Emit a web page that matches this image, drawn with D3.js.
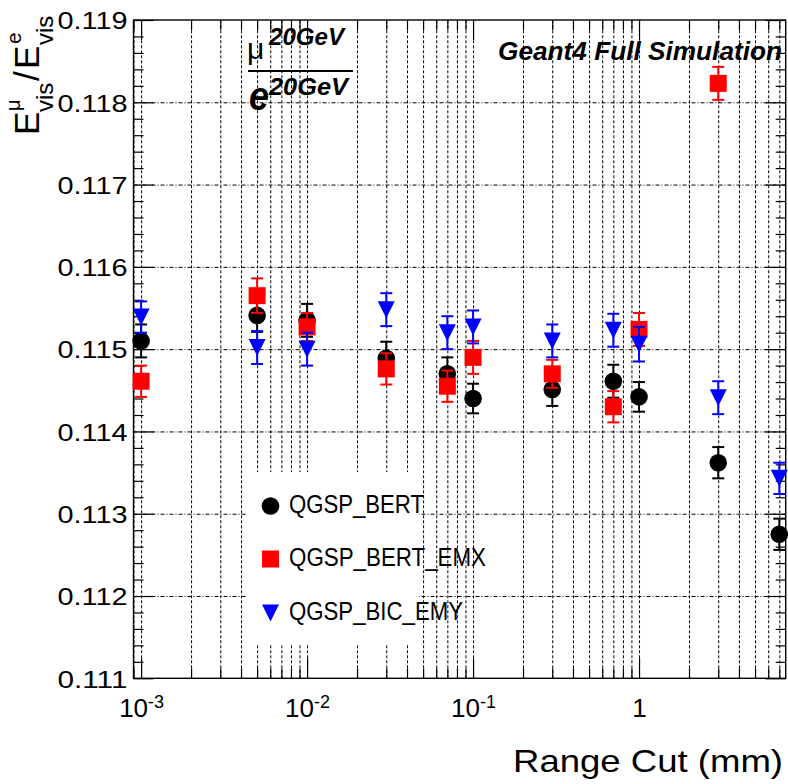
<!DOCTYPE html>
<html><head><meta charset="utf-8">
<script src="https://cdn.jsdelivr.net/npm/d3@7"></script>
<style>
body{margin:0;background:#fff}
text{font-family:"Liberation Sans",Arial,Helvetica,sans-serif;fill:#000}
</style>
</head><body>
<svg id="c" width="788" height="784"></svg>
<script>
// ---------- data ----------
const rangeCuts = [0.001, 0.005, 0.01, 0.03, 0.07, 0.1, 0.3, 0.7, 1, 3, 7];
const seriesNames = ["QGSP_BERT", "QGSP_BERT_EMX", "QGSP_BIC_EMY"];
const seriesColors = ["#000000", "#ff0000", "#0000ff"];
const bertVals  = [0.11510, 0.11541, 0.11535, 0.11489, 0.11470, 0.11440, 0.11451, 0.11461, 0.11442, 0.11362, 0.11275];
const bertErrs  = [0.00020, 0.00020, 0.00020, 0.00020, 0.00020, 0.00018, 0.00020, 0.00020, 0.00018, 0.00019, 0.00019];
const emxVals   = [0.11461, 0.11565, 0.11527, 0.11476, 0.11455, 0.11490, 0.11470, 0.11430, 0.11524, 0.11823, null];
const emxErrs   = [0.00019, 0.00021, 0.00017, 0.00019, 0.00019, 0.00020, 0.00017, 0.00019, 0.00020, 0.00020, null];
const emyVals   = [0.11539, 0.11502, 0.11500, 0.11548, 0.11520, 0.11527, 0.11510, 0.11523, 0.11506, 0.11441, 0.11343];
const emyErrs   = [0.00019, 0.00020, 0.00020, 0.00020, 0.00020, 0.00020, 0.00020, 0.00020, 0.00021, 0.00020, 0.00019];
const xMajorTicks = [0.001, 0.01, 0.1, 1];
const xTickLabels = [["10","-3"],["10","-2"],["10","-1"],["1",""]];
const yTicks = [0.111, 0.112, 0.113, 0.114, 0.115, 0.116, 0.117, 0.118, 0.119];
const yTickLabels = ["0.111","0.112","0.113","0.114","0.115","0.116","0.117","0.118","0.119"];
const xTitle = "Range Cut (mm)";
const simLabel = "Geant4 Full Simulation";

// ---------- layout ----------
const L = 133.5, R = 785.7, T = 20, B = 678.3;
const svg = d3.select("#c");
const x = d3.scaleLog().domain([0.0009, 7.65]).range([L, R]);
const y = d3.scaleLinear().domain([0.111, 0.119]).range([B, T]);

const xMinor = [];
for (let e = -4; e <= 1; e++) for (let k = 2; k <= 9; k++) {
  const v = k * Math.pow(10, e);
  if (v > 0.0009 && v < 7.65) xMinor.push(+v.toPrecision(3));
}
const xAllGrid = xMinor.concat(xMajorTicks);
const yMinor = d3.range(0.111, 0.11901, 0.0002).map(v => +v.toFixed(4)).filter(v => !yTicks.some(t => Math.abs(t - v) < 1e-7));
const yGrid = yTicks.filter(v => v > 0.111 && v < 0.119);

// ---------- grid ----------
const gx = svg.append("g").attr("transform", `translate(0,${B})`)
  .call(d3.axisBottom(x).tickValues(xAllGrid).tickSize(-(B - T)).tickFormat(""));
gx.select(".domain").remove();
gx.selectAll("line").attr("stroke", "#000").attr("stroke-width", 1).attr("stroke-dasharray", "3,2");

const gy = svg.append("g").attr("transform", `translate(${L},0)`)
  .call(d3.axisLeft(y).tickValues(yGrid).tickSize(-(R - L)).tickFormat(""));
gy.select(".domain").remove();
gy.selectAll("line").attr("stroke", "#000").attr("stroke-width", 1).attr("stroke-dasharray", "4,2,1,2");

// ---------- ticks ----------
function styleAxis(g) {
  g.select(".domain").remove();
  g.selectAll("line").attr("stroke", "#000").attr("stroke-width", 1.2);
}
// bottom
const bMaj = svg.append("g").attr("transform", `translate(0,${B})`)
  .call(d3.axisBottom(x).tickValues(xMajorTicks).tickSizeInner(-20).tickSizeOuter(0).tickPadding(20)
    .tickFormat((d, i) => ""));
styleAxis(bMaj);
bMaj.selectAll(".tick text").each(function(d, i) {
  const t = d3.select(this).attr("font-size", 26).attr("font-family", null);
  t.append("tspan").text(xTickLabels[i][0]);
  if (xTickLabels[i][1]) t.append("tspan").attr("font-size", 18).attr("dy", -9).text(xTickLabels[i][1]);
});
const bMin = svg.append("g").attr("transform", `translate(0,${B})`)
  .call(d3.axisBottom(x).tickValues(xMinor).tickSizeInner(-10).tickSizeOuter(0).tickFormat(""));
styleAxis(bMin);
// top
const tMaj = svg.append("g").attr("transform", `translate(0,${T})`)
  .call(d3.axisTop(x).tickValues(xMajorTicks).tickSizeInner(-20).tickSizeOuter(0).tickFormat(""));
styleAxis(tMaj);
const tMin = svg.append("g").attr("transform", `translate(0,${T})`)
  .call(d3.axisTop(x).tickValues(xMinor).tickSizeInner(-10).tickSizeOuter(0).tickFormat(""));
styleAxis(tMin);
// left
const lMaj = svg.append("g").attr("transform", `translate(${L},0)`)
  .call(d3.axisLeft(y).tickValues(yTicks).tickSizeInner(-20).tickSizeOuter(0).tickPadding(6)
    .tickFormat((d, i) => yTickLabels[i]));
styleAxis(lMaj);
lMaj.selectAll(".tick text").attr("font-size", 24.5).attr("font-family", null)
  .attr("textLength", 70).attr("lengthAdjust", "spacingAndGlyphs").attr("dy", "0.36em");
const lMin = svg.append("g").attr("transform", `translate(${L},0)`)
  .call(d3.axisLeft(y).tickValues(yMinor).tickSizeInner(-10).tickSizeOuter(0).tickFormat(""));
styleAxis(lMin);
// right
const rMaj = svg.append("g").attr("transform", `translate(${R},0)`)
  .call(d3.axisRight(y).tickValues(yTicks).tickSizeInner(-20).tickSizeOuter(0).tickFormat(""));
styleAxis(rMaj);
const rMin = svg.append("g").attr("transform", `translate(${R},0)`)
  .call(d3.axisRight(y).tickValues(yMinor).tickSizeInner(-10).tickSizeOuter(0).tickFormat(""));
styleAxis(rMin);

// frame
svg.append("rect").attr("x", L).attr("y", T).attr("width", R - L).attr("height", B - T)
  .attr("fill", "none").attr("stroke", "#000").attr("stroke-width", 1.4);

// ---------- labels ----------
svg.append("text").attr("x", 782).attr("y", 60).attr("text-anchor", "end")
  .attr("font-size", 26).attr("font-weight", "bold").attr("font-style", "italic")
  .attr("textLength", 284).attr("lengthAdjust", "spacingAndGlyphs").text(simLabel);

svg.append("text").attr("x", 783).attr("y", 772).attr("text-anchor", "end")
  .attr("font-size", 30.5).attr("textLength", 270).attr("lengthAdjust", "spacingAndGlyphs").text(xTitle);

// fraction label
svg.append("text").attr("x", 247).attr("y", 59).attr("font-size", 30).text("\u03bc");
svg.append("text").attr("x", 269).attr("y", 45).attr("font-size", 23.5).attr("font-weight", "bold")
  .attr("font-style", "italic").attr("textLength", 75).attr("lengthAdjust", "spacingAndGlyphs").text("20GeV");
svg.append("line").attr("x1", 248).attr("x2", 353).attr("y1", 71).attr("y2", 71)
  .attr("stroke", "#000").attr("stroke-width", 2);
svg.append("text").attr("x", 249).attr("y", 109.5).attr("font-size", 40).attr("font-weight", "bold")
  .attr("font-style", "italic").attr("textLength", 20).attr("lengthAdjust", "spacingAndGlyphs").text("e");
svg.append("text").attr("x", 269).attr("y", 95).attr("font-size", 24).attr("font-weight", "bold")
  .attr("font-style", "italic").attr("textLength", 79).attr("lengthAdjust", "spacingAndGlyphs").text("20GeV");

// y title
const yt = svg.append("g").attr("transform", "translate(39,135) rotate(-90)");
yt.append("text").attr("x", 0).attr("y", 0).attr("font-size", 35).text("E");
yt.append("text").attr("x", 24).attr("y", -19).attr("font-size", 20).text("\u03bc");
yt.append("text").attr("x", 23).attr("y", 14).attr("font-size", 24).text("vis");
yt.append("text").attr("x", 54).attr("y", 0).attr("font-size", 35).text("/");
yt.append("text").attr("x", 66).attr("y", 0).attr("font-size", 35).text("E");
yt.append("text").attr("x", 91).attr("y", -18).attr("font-size", 21).text("e");
yt.append("text").attr("x", 90).attr("y", 14).attr("font-size", 24).text("vis");

// ---------- legend box ----------
svg.append("rect").attr("x", 247).attr("y", 472).attr("width", 172).attr("height", 172).attr("fill", "#fff");

// ---------- data marks ----------
const series = [
  {vals: bertVals, errs: bertErrs, shape: "circle"},
  {vals: emxVals, errs: emxErrs, shape: "square"},
  {vals: emyVals, errs: emyErrs, shape: "triangle"}
];
function drawMarker(g, shape, cx, cy, color, s) {
  if (shape === "circle") g.append("circle").attr("cx", cx).attr("cy", cy).attr("r", s / 2 + 0.3).attr("fill", color);
  else if (shape === "square") g.append("rect").attr("x", cx - s / 2).attr("y", cy - s / 2).attr("width", s).attr("height", s).attr("fill", color);
  else g.append("path").attr("d", `M${cx - s / 2},${cy - s / 2}L${cx + s / 2},${cy - s / 2}L${cx},${cy + s / 2}Z`).attr("fill", color);
}
series.forEach((s, si) => {
  const col = seriesColors[si];
  const g = svg.append("g");
  const pts = rangeCuts.map((c, i) => ({c, v: s.vals[i], e: s.errs[i]})).filter(p => p.v != null);
  pts.forEach(p => {
    const cx = x(p.c), y0 = y(p.v - p.e), y1 = y(p.v + p.e);
    g.append("line").attr("x1", cx).attr("x2", cx).attr("y1", y0).attr("y2", y1).attr("stroke", col).attr("stroke-width", 2);
    g.append("line").attr("x1", cx - 6).attr("x2", cx + 6).attr("y1", y0).attr("y2", y0).attr("stroke", col).attr("stroke-width", 2);
    g.append("line").attr("x1", cx - 6).attr("x2", cx + 6).attr("y1", y1).attr("y2", y1).attr("stroke", col).attr("stroke-width", 2);
    drawMarker(g, s.shape, cx, y(p.v), col, 17);
  });
});

// ---------- legend ----------
const legBase = [513, 566, 620];
const legLen = [135, 197, 174];
seriesNames.forEach((n, i) => {
  drawMarker(svg, series[i].shape, 270.5, legBase[i] - 7, seriesColors[i], 17);
  svg.append("text").attr("x", 289).attr("y", legBase[i]).attr("font-size", 25)
    .attr("textLength", legLen[i]).attr("lengthAdjust", "spacingAndGlyphs").text(n);
});
</script>
</body></html>
